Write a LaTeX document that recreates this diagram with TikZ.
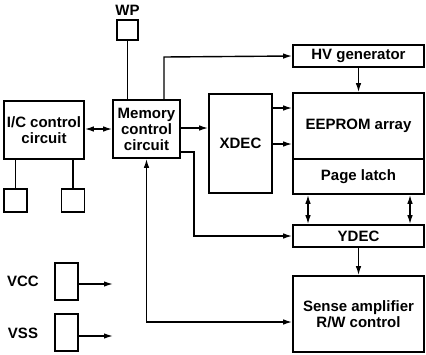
\documentclass[tikz,border=0pt]{standalone}
\usepackage{fontspec}
\setmainfont{Liberation Sans}
\usetikzlibrary{arrows.meta}
\begin{document}
\begin{tikzpicture}[x=1pt,y=-1pt,
  blk/.style={draw,line width=1.6pt,inner sep=0pt,align=center,font=\bfseries\fontsize{15}{16}\selectfont},
  lbl/.style={font=\bfseries\fontsize{15}{16}\selectfont,inner sep=0pt},
  con/.style={line width=1.4pt},
  arr/.style={con,-{Latex[length=9pt,width=5.5pt]}},
  barr/.style={con,{Latex[length=9pt,width=5.5pt]}-{Latex[length=9pt,width=5.5pt]}}]
\useasboundingbox (0,0) rectangle (426,354);
% blocks
\node[blk,minimum width=21pt,minimum height=20pt] (wp) at (127.5,30) {};
\node[lbl] (wpl) at (127.5,10) {WP};
\node[blk,minimum width=67pt,minimum height=58pt] (mem) at (146.5,129) {Memory\\control\\circuit};
\node[blk,minimum width=80pt,minimum height=58pt] (ic) at (44,130) {I/C control\\circuit};
\node[blk,minimum width=23pt,minimum height=23pt] (p1) at (15.5,200.5) {};
\node[blk,minimum width=23pt,minimum height=23pt] (p2) at (73,200.5) {};
\node[blk,minimum width=23pt,minimum height=37pt] (vcc) at (66.5,281.5) {};
\node[blk,minimum width=23pt,minimum height=37pt] (vss) at (66.5,332.5) {};
\node[lbl] (vccl) at (23,281) {VCC};
\node[lbl] (vssl) at (23,333) {VSS};
\node[blk,minimum width=63pt,minimum height=99pt] (xdec) at (240.5,143.5) {XDEC};
\node[blk,minimum width=131pt,minimum height=22pt] (hv) at (358.5,56) {HV generator};
\node[blk,minimum width=131pt,minimum height=66pt] (ee) at (358.5,126) {EEPROM array};
\node[blk,minimum width=131pt,minimum height=35pt] (pl) at (358.5,176.5) {Page latch};
\node[blk,minimum width=131pt,minimum height=22pt] (yd) at (358.5,236) {YDEC};
\node[blk,minimum width=131pt,minimum height=76pt] (sa) at (358.5,314) {Sense amplifier\\R/W control};
\coordinate (vcce) at (113,284);
\coordinate (vsse) at (113,336);
% connectors
\draw[con] (wp.south) -- (wp.south |- mem.north);
\draw[barr] (ic.east |- 0,129) -- (mem.west |- 0,129);
\draw[arr] (mem.east |- 0,128) -- (xdec.west |- 0,128);
\draw[arr] (164,0 |- mem.north) -- (164,57) -- (hv.west);
\draw[arr] (mem.east |- 0,152) -- (194,152) -- (194,236) -- (yd.west);
\draw[barr] (mem.south) -- (146.5,322) -- (sa.west |- 0,322);
\draw[con] (15.5,0 |- ic.south) -- (p1.north);
\draw[con] (73,0 |- ic.south) -- (p2.north);
\draw[arr] (vcc.east |- vcce) -- (vcce);
\draw[arr] (vss.east |- vsse) -- (vsse);
\draw[arr] (xdec.east |- 0,108) -- (ee.west |- 0,108);
\draw[arr] (xdec.east |- 0,144) -- (ee.west |- 0,144);
\draw[arr] (hv.south) -- (ee.north);
\draw[barr] (308,0 |- pl.south) -- (308,0 |- yd.north);
\draw[barr] (410,0 |- pl.south) -- (410,0 |- yd.north);
\draw[arr] (yd.south) -- (sa.north);
\end{tikzpicture}
\end{document}
